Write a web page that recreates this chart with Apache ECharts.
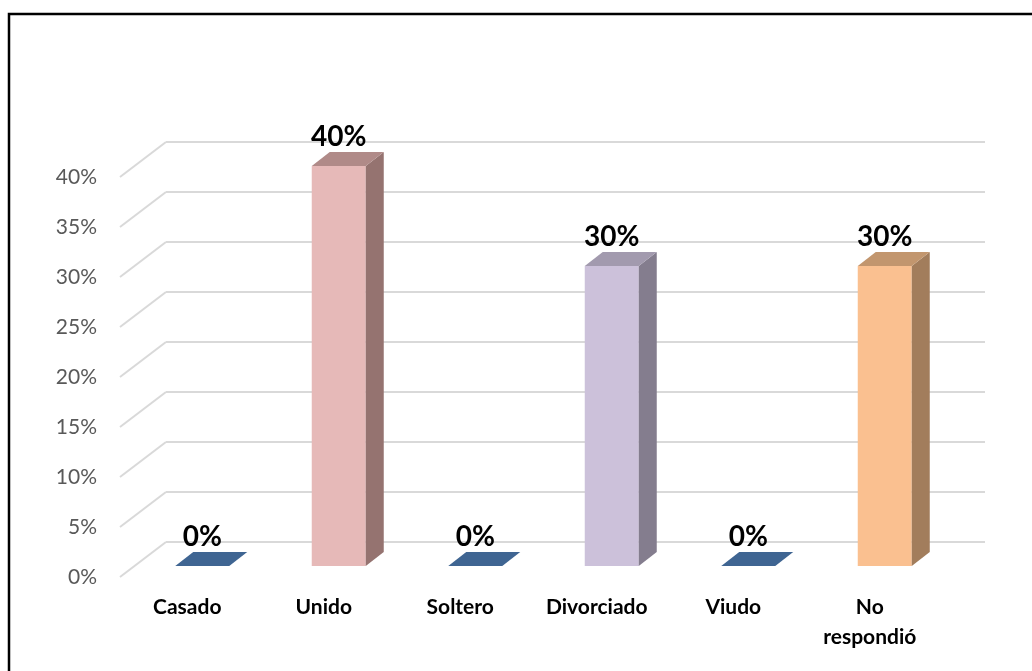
<!DOCTYPE html>
<html>
<head>
<meta charset="utf-8">
<script src="https://cdn.jsdelivr.net/npm/echarts@6/dist/echarts.min.js"></script>
<style>
html,body{margin:0;padding:0;background:#fff;}
#c{width:1032px;height:671px;}
</style>
</head>
<body>
<div id="c"></div>
<script>
// ---- data ----
var categories = ['Casado', 'Unido', 'Soltero', 'Divorciado', 'Viudo', 'No\nrespondió'];
var values = [0, 40, 0, 30, 0, 30];
var valueLabels = ['0%', '40%', '0%', '30%', '0%', '30%'];
var yTicks = [0, 5, 10, 15, 20, 25, 30, 35, 40];

// ---- styles ----
var frontColors = ['#4F81BD', '#E6B9B8', '#4F81BD', '#CCC1DA', '#4F81BD', '#FAC090'];
var topColors   = ['#3F6592', '#B08A88', '#3F6592', '#A29AAE', '#3F6592', '#C2966E'];
var sideColors  = ['#33527A', '#957370', '#33527A', '#847D8E', '#33527A', '#A27D5C'];

var FRONT_DX = -32, FRONT_DY = 24;   // bar front plane relative to back wall
var DEPTH_DX = 18, DEPTH_DY = -14;   // bar depth
var FLOOR_DX = -46, FLOOR_DY = 35;   // wall-to-front diagonal
var BAR_W = 54;

var chart = echarts.init(document.getElementById('c'), null, {renderer: 'canvas'});
var FONT = 'Lato, "Open Sans", sans-serif';

chart.setOption({
  animation: false,
  backgroundColor: '#ffffff',
  graphic: [{
    type: 'rect',
    shape: {x: 9, y: 14, width: 1200, height: 900},
    style: {fill: 'none', stroke: '#000', lineWidth: 2.5},
    silent: true, z: 100
  }],
  grid: [
    {left: 166, right: 47, top: 142, bottom: 129, containLabel: false},
    {left: 120, right: 93, top: 177, bottom: 94, containLabel: false}
  ],
  xAxis: [{
    type: 'category',
    gridIndex: 0,
    data: categories,
    axisLine: {show: false},
    axisTick: {show: false},
    splitLine: {show: false},
    axisLabel: {
      interval: 0,
      margin: 50,
      padding: [0, 94, 0, 0],
      color: '#000',
      fontFamily: FONT,
      fontWeight: 'bold',
      fontSize: 21,
      lineHeight: 30
    }
  }, {
    type: 'category',
    gridIndex: 1,
    data: categories,
    show: false
  }],
  yAxis: [{
    type: 'value',
    gridIndex: 0,
    min: 0, max: 40, interval: 5,
    axisLine: {show: false},
    axisTick: {show: false},
    axisLabel: {show: false},
    splitLine: {show: true, lineStyle: {color: '#D9D9D9', width: 2}}
  }, {
    type: 'value',
    gridIndex: 1,
    min: 0, max: 40, interval: 5,
    axisLine: {show: false},
    axisTick: {show: false},
    splitLine: {show: false},
    axisLabel: {
      margin: 23,
      showMinLabel: true,
      showMaxLabel: true,
      color: '#595959',
      fontFamily: FONT,
      fontSize: 21,
      formatter: function (v) { return v + '%'; }
    }
  }],
  series: [{
    type: 'custom',
    z: 1,
    silent: true,
    data: yTicks.map(function (t) { return [0, t]; }),
    encode: {x: 0, y: 1},
    renderItem: function (params, api) {
      var p = api.coord([0, api.value(1)]);
      var bw = api.size([1, 0])[0];
      var left = p[0] - bw / 2;
      return {
        type: 'line',
        shape: {x1: left, y1: p[1], x2: left + FLOOR_DX, y2: p[1] + FLOOR_DY},
        style: {stroke: '#D9D9D9', lineWidth: 2}
      };
    }
  }, {
    type: 'custom',
    z: 5,
    silent: true,
    data: values.map(function (v, i) { return [i, v]; }),
    encode: {x: 0, y: 1},
    renderItem: function (params, api) {
      var i = api.value(0);
      var top = api.coord([i, api.value(1)]);
      var base = api.coord([i, 0]);
      var cx = top[0] + FRONT_DX;
      var xl = cx - BAR_W / 2, xr = cx + BAR_W / 2;
      var yt = top[1] + FRONT_DY, yb = base[1] + FRONT_DY;
      var children = [];
      if (yb - yt > 0.5) {
        children.push({type: 'rect', shape: {x: xl, y: yt, width: BAR_W, height: yb - yt},
          style: {fill: frontColors[i]}});
        children.push({type: 'polygon', shape: {points: [[xr, yt], [xr + DEPTH_DX, yt + DEPTH_DY], [xr + DEPTH_DX, yb + DEPTH_DY], [xr, yb]]},
          style: {fill: sideColors[i]}});
      }
      children.push({type: 'polygon', shape: {points: [[xl, yt], [xr, yt], [xr + DEPTH_DX, yt + DEPTH_DY], [xl + DEPTH_DX, yt + DEPTH_DY]]},
        style: {fill: topColors[i]}});
      children.push({type: 'text', x: cx, y: yt + DEPTH_DY - 15,
        style: {text: valueLabels[i], fill: '#000', font: 'bold 28px ' + FONT, align: 'center', verticalAlign: 'middle'}});
      return {type: 'group', children: children};
    }
  }]
});
</script>
</body>
</html>
